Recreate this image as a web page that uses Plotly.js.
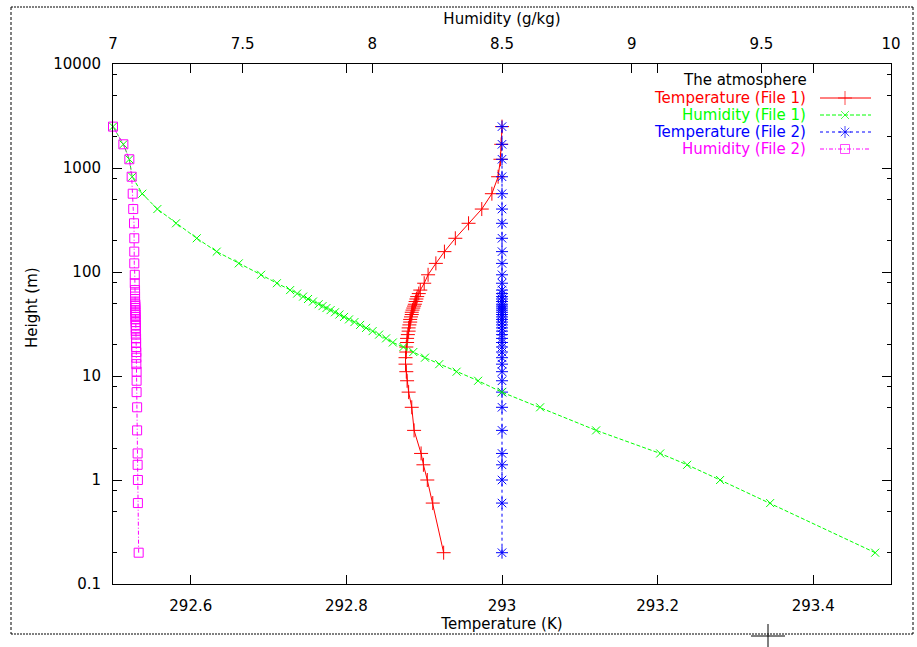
<!DOCTYPE html>
<html>
<head>
<meta charset="utf-8">
<script src="https://cdn.plot.ly/plotly-3.0.1.min.js"></script>
<style>
  html, body { margin: 0; padding: 0; background: #fff; }
  #chart { width: 917px; height: 647px; }
</style>
</head>
<body>
<div id="chart"></div>
<script>
// ---------------- data ----------------
const heights = [0.2, 0.6, 1, 1.4, 1.8, 3, 5, 7, 9, 11, 13, 15, 17, 19, 21, 23, 25, 27, 29, 31,
  33, 35, 37, 39, 41, 43, 45, 47, 49, 52, 55, 58, 62, 67, 78, 94, 121, 157, 211, 294,
  403, 566, 824, 1213, 1690, 2500];

const tempFile1 = [292.925, 292.911, 292.904, 292.899, 292.896, 292.887, 292.884, 292.880, 292.878, 292.877,
  292.876, 292.876, 292.877, 292.877, 292.878, 292.878, 292.879, 292.880, 292.880, 292.881,
  292.882, 292.882, 292.883, 292.884, 292.884, 292.885, 292.886, 292.887, 292.888, 292.889,
  292.890, 292.891, 292.893, 292.895, 292.900, 292.905, 292.915, 292.926, 292.940, 292.957,
  292.974, 292.987, 292.995, 292.998, 292.999, 293.000];

const humFile1 = [9.939, 9.534, 9.341, 9.214, 9.110, 8.863, 8.647, 8.499, 8.408, 8.325,
  8.258, 8.203, 8.158, 8.120, 8.079, 8.053, 8.026, 8.001, 7.976, 7.953,
  7.931, 7.910, 7.891, 7.873, 7.856, 7.839, 7.823, 7.808, 7.793, 7.771,
  7.752, 7.733, 7.710, 7.683, 7.632, 7.571, 7.485, 7.400, 7.323, 7.243,
  7.171, 7.113, 7.074, 7.063, 7.040, 7.000];

const tempFile2 = [293, 293, 293, 293, 293, 293, 293, 293, 293, 293,
  293, 293, 293, 293, 293, 293, 293, 293, 293, 293,
  293, 293, 293, 293, 293, 293, 293, 293, 293, 293,
  293, 293, 293, 293, 293, 293, 293, 293, 293, 293,
  293, 293, 293, 293, 293, 293];

const humFile2 = [7.099, 7.096, 7.096, 7.095, 7.095, 7.093, 7.093, 7.091, 7.091, 7.091,
  7.090, 7.090, 7.090, 7.089, 7.089, 7.089, 7.088, 7.088, 7.088, 7.088,
  7.087, 7.087, 7.087, 7.087, 7.086, 7.086, 7.086, 7.086, 7.086, 7.085,
  7.085, 7.085, 7.085, 7.085, 7.084, 7.084, 7.082, 7.082, 7.082, 7.081,
  7.078, 7.076, 7.072, 7.063, 7.040, 7.000];

const tempTicks = [292.6, 292.8, 293, 293.2, 293.4];
const humTicks = [7, 7.5, 8, 8.5, 9, 9.5, 10];
const heightTicks = [0.1, 1, 10, 100, 1000, 10000];
const heightTickText = ['0.1', '1', '10', '100', '1000', '10000'];
const heightMinorTicks = [0.2, 0.5, 0.8, 2, 5, 8, 20, 50, 80, 200, 500, 800, 2000, 5000, 8000];

const seriesNames = ['Temperature (File 1)', 'Humidity (File 1)', 'Temperature (File 2)', 'Humidity (File 2)'];
const legendTitle = 'The atmosphere';
const yTitle = 'Height (m)';

// ---------------- styling ----------------
const FONT = 'DejaVu Sans, Liberation Sans, sans-serif';
const colors = ['#ff0000', '#00ff00', '#0000ff', '#ff00ff'];
const dashes = ['solid', '4px,2px', '3px,3px', '4px,2px,1px,2px'];
const symbols = ['cross-thin-open', 'x-thin-open', 'asterisk-open', 'square-open'];
const sizes = [10, 8, 10, 9];

function mk(i, x, xaxis) {
  return {
    type: 'scatter', mode: 'lines+markers', name: seriesNames[i], showlegend: false,
    x: x, y: heights, xaxis: xaxis, yaxis: 'y', cliponaxis: false,
    line: { color: colors[i], width: 1, dash: dashes[i] },
    marker: { symbol: symbols[i], size: sizes[i], color: colors[i],
              line: { color: colors[i], width: 1 } }
  };
}

const traces = [
  mk(0, tempFile1, 'x'),
  mk(1, humFile1, 'x2'),
  mk(2, tempFile2, 'x'),
  mk(3, humFile2, 'x2')
];

// pixel -> paper helpers (plot area 113..891 x 64..584)
const L = 113, R = 891, T = 64, B = 584;
const px = v => (v - L) / (R - L);
const py = v => (B - v) / (B - T);

// legend (gnuplot style: right-aligned text, sample to the right).
// Samples are drawn on a hidden overlay axis pair measured in screen pixels.
const legTextX = 807, legLineX0 = 820, legLineX1 = 871, legMarkX = 845;
const legRows = [98, 115, 132, 149];
legRows.forEach((row, i) => {
  traces.push({
    type: 'scatter', mode: 'lines+markers', xaxis: 'x3', yaxis: 'y3', showlegend: false,
    hoverinfo: 'skip', cliponaxis: false,
    x: [legLineX0, legMarkX, legLineX1], y: [row, row, row],
    line: { color: colors[i], width: 1, dash: dashes[i] },
    marker: { symbol: symbols[i], size: [0, sizes[i], 0], color: colors[i],
              line: { color: colors[i], width: 1 } }
  });
});

function seg(x0, y0, x1, y1, dash) {
  return { type: 'line', xref: 'paper', yref: 'paper', x0: px(x0), y0: py(y0), x1: px(x1), y1: py(y1),
           line: { color: '#000', width: 1, dash: dash || 'solid' } };
}
const shapes = [
  // outer dashed frame
  seg(11, 7, 913, 7, '2px,1px'),
  seg(11, 634, 913, 634, '2px,1px'),
  seg(11, 7, 11, 634, '3px,2px'),
  seg(913, 7, 913, 634, '3px,2px'),
  // cursor crosshair
  seg(751, 636, 785, 636),
  seg(768, 624, 768, 648)
];

const annotations = [];
annotations.push({ xref: 'paper', yref: 'paper', x: px(808), y: py(80), xanchor: 'right', yanchor: 'middle',
  text: legendTitle, showarrow: false, borderpad: 0, font: { family: FONT, size: 15, color: '#000' } });
legRows.forEach((row, i) => {
  annotations.push({ xref: 'paper', yref: 'paper', x: px(legTextX), y: py(row), xanchor: 'right', yanchor: 'middle',
    text: seriesNames[i], showarrow: false, borderpad: 0, font: { family: FONT, size: 15, color: colors[i] } });
});
// y-axis title (gnuplot places it slightly above the plot centre)
annotations.push({ xref: 'paper', yref: 'paper', x: px(32), y: py(308), xanchor: 'center', yanchor: 'middle',
  textangle: -90, text: yTitle, showarrow: false, borderpad: 0, font: { family: FONT, size: 15, color: '#000' } });

const axisCommon = {
  showgrid: false, zeroline: false, showline: true, linecolor: '#000', linewidth: 1,
  ticks: 'inside', ticklen: 9, tickwidth: 1, tickcolor: '#000',
  tickfont: { family: FONT, size: 15, color: '#000' }
};

const layout = {
  width: 917, height: 647,
  margin: { l: L, r: 917 - R, t: T, b: 647 - B, pad: 0 },
  paper_bgcolor: '#fff', plot_bgcolor: '#fff',
  font: { family: FONT, size: 15, color: '#000' },
  showlegend: false,
  xaxis: Object.assign({}, axisCommon, {
    range: [292.5, 293.5], tickmode: 'array', tickvals: tempTicks, mirror: 'ticks',
    ticklabelstandoff: 8,
    title: { text: 'Temperature (K)', standoff: 1, font: { family: FONT, size: 15, color: '#000' } }
  }),
  xaxis2: Object.assign({}, axisCommon, {
    overlaying: 'x', side: 'top', anchor: 'y',
    range: [7, 10], tickmode: 'array', tickvals: humTicks,
    ticklabelstandoff: 8,
    title: { text: 'Humidity (g/kg)', standoff: 6, font: { family: FONT, size: 15, color: '#000' } }
  }),
  yaxis: Object.assign({}, axisCommon, {
    type: 'log', range: [-1, 4], tickmode: 'array', tickvals: heightTicks, ticktext: heightTickText,
    mirror: 'ticks', ticklabelstandoff: 8,
    minor: { tickmode: 'array', tickvals: heightMinorTicks, ticks: 'inside', ticklen: 4, tickcolor: '#000', showgrid: false }
  }),
  xaxis3: { overlaying: 'x', anchor: 'y3', visible: false, range: [L, R], fixedrange: true },
  yaxis3: { overlaying: 'y', anchor: 'x3', visible: false, range: [B, T], fixedrange: true },
  shapes: shapes,
  annotations: annotations
};

Plotly.newPlot('chart', traces, layout, { displayModeBar: false, staticPlot: true });
</script>
</body>
</html>
